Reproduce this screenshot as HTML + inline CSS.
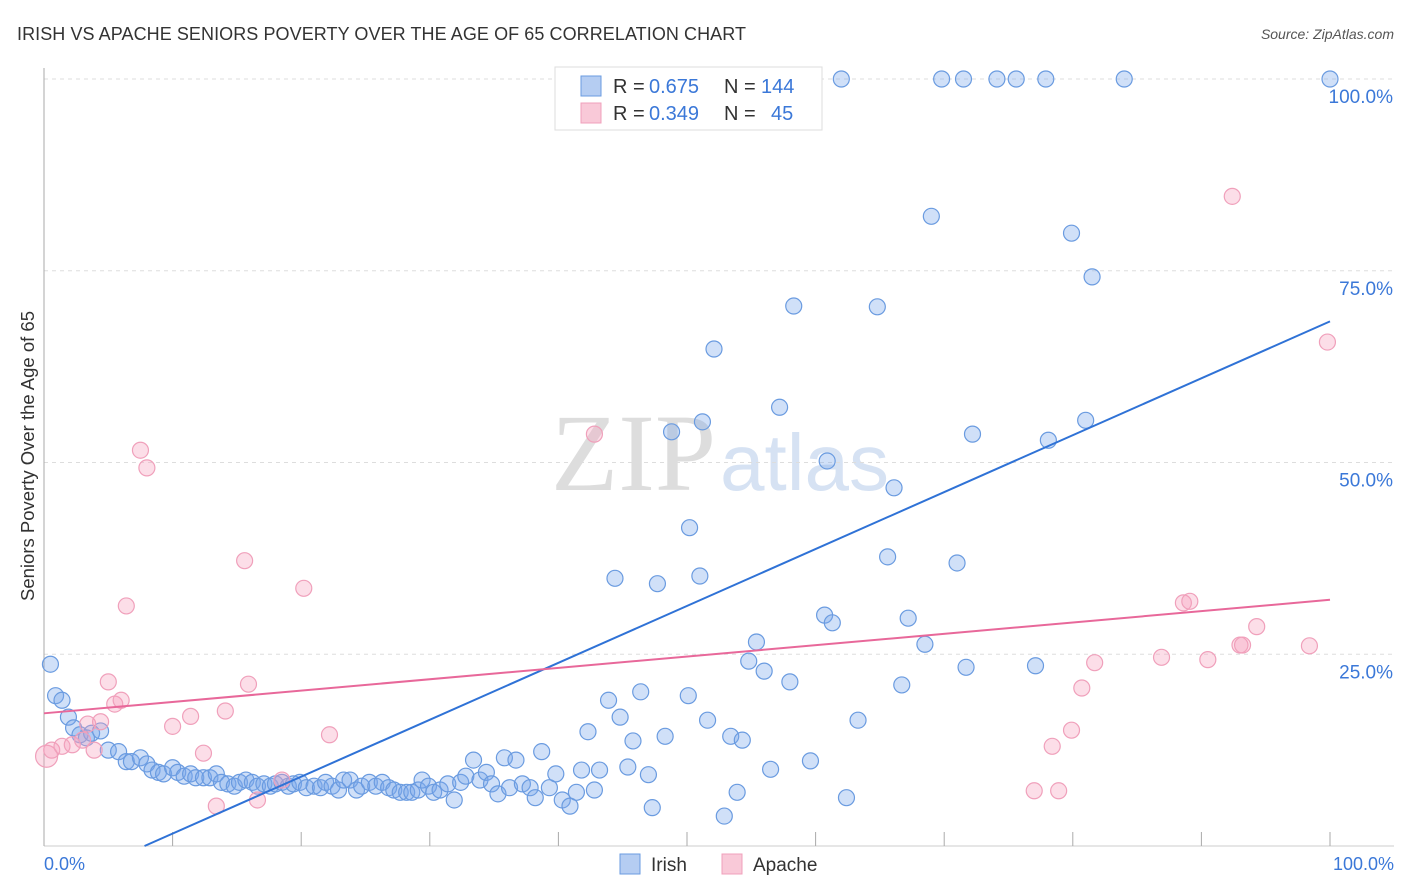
<!DOCTYPE html>
<html><head><meta charset="utf-8"><style>
body{margin:0;background:#fff;font-family:"Liberation Sans",sans-serif}
svg{display:block}
</style></head><body>
<svg id="c" width="1406" height="892">
<text x="17" y="40" font-size="18" fill="#333" textLength="729">IRISH VS APACHE SENIORS POVERTY OVER THE AGE OF 65 CORRELATION CHART</text>
<text x="1394" y="39" font-size="14" fill="#555" font-style="italic" text-anchor="end">Source: ZipAtlas.com</text>
<text x="716" y="490" font-size="110" fill="#ddd" font-family="Liberation Serif" text-anchor="end">ZIP</text>
<text x="720" y="490" font-size="80" fill="#d6e2f3">atlas</text>
<text transform="translate(34,456) rotate(-90)" font-size="18.5" fill="#333" text-anchor="middle">Seniors Poverty Over the Age of 65</text>
<g id="grid"></g><g id="marks"></g>
<g>
<rect x="555" y="67" width="267" height="63" fill="#fff" stroke="#ddd"/>
<rect x="581" y="76" width="20" height="20" fill="#b5cdf2" stroke="#6a9be0"/>
<rect x="581" y="103" width="20" height="20" fill="#f9c9d8" stroke="#f0a0bb"/>
<text x="613" y="93" font-size="20" fill="#333">R =</text>
<text x="649" y="93" font-size="20" fill="#3b78d8">0.675</text>
<text x="724" y="93" font-size="20" fill="#333">N =</text>
<text x="761" y="93" font-size="20" fill="#3b78d8">144</text>
<text x="613" y="120" font-size="20" fill="#333">R =</text>
<text x="649" y="120" font-size="20" fill="#3b78d8">0.349</text>
<text x="724" y="120" font-size="20" fill="#333">N =</text>
<text x="771" y="120" font-size="20" fill="#3b78d8">45</text>
</g>
<g>
<rect x="620" y="854" width="20" height="20" fill="#b5cdf2" stroke="#6a9be0"/>
<text x="651" y="871" font-size="19" fill="#333">Irish</text>
<rect x="722" y="854" width="20" height="20" fill="#f9c9d8" stroke="#f0a0bb"/>
<text x="753" y="871" font-size="19" fill="#333">Apache</text>
</g>
<text x="44" y="870" font-size="18" fill="#3b78d8">0.0%</text>
<text x="1394" y="870" font-size="18" fill="#3b78d8" text-anchor="end">100.0%</text>
</svg>
<script>
const irishX=[0.5,0.9,1.4,1.9,2.3,2.8,3.3,3.7,4.4,5.0,5.8,6.4,6.8,7.5,8.0,8.4,8.9,9.3,10.0,10.4,10.9,11.4,11.8,12.4,12.9,13.4,13.8,14.3,14.8,15.2,15.7,16.2,16.6,17.1,17.6,18.0,18.5,19.0,19.4,19.9,20.4,21.0,21.5,21.9,22.4,22.9,23.3,23.8,24.3,24.7,25.3,25.8,26.3,26.8,27.2,27.7,28.2,28.6,29.1,29.4,29.9,30.3,30.8,31.4,31.9,32.4,32.8,33.4,33.9,34.4,34.8,35.3,35.8,36.2,36.7,37.2,37.8,38.2,38.7,39.3,39.8,40.3,40.9,41.4,41.8,42.3,42.8,43.2,43.9,44.4,44.8,45.4,45.8,46.4,47.0,47.3,47.7,48.3,48.8,50.1,50.2,51.0,51.2,51.6,52.1,52.9,53.4,53.9,54.3,54.8,55.4,56.0,56.5,57.2,58.0,58.3,59.6,60.7,60.9,61.3,62.0,62.4,63.3,64.8,65.6,66.1,66.7,67.2,68.5,69.0,69.8,71.0,71.5,71.7,72.2,74.1,75.6,77.1,77.9,78.1,79.9,81.0,81.5,84.0,100];
const irishY=[23.7,19.6,19.0,16.8,15.4,14.5,14.1,14.7,15.0,12.5,12.3,11.0,11.0,11.5,10.7,9.9,9.6,9.4,10.2,9.6,9.1,9.4,8.9,8.9,8.9,9.4,8.3,8.1,7.8,8.3,8.6,8.3,7.8,8.1,7.8,8.1,8.3,7.8,8.1,8.3,7.6,7.8,7.6,8.3,7.8,7.3,8.6,8.6,7.3,7.8,8.3,7.8,8.3,7.6,7.3,7.0,7.0,7.0,7.3,8.6,7.8,7.0,7.3,8.1,6.0,8.3,9.1,11.2,8.6,9.6,8.1,6.8,11.5,7.6,11.2,8.1,7.6,6.3,12.3,7.6,9.4,6.0,5.2,7.0,9.9,14.9,7.3,9.9,19.0,34.9,16.8,10.3,13.7,20.1,9.3,5.0,34.2,14.3,54.0,19.6,41.5,35.2,55.3,16.4,64.8,3.9,14.3,7.0,13.8,24.1,26.6,22.8,10.0,57.2,21.4,70.4,11.1,30.1,50.2,29.1,100,6.3,16.4,70.3,37.7,46.7,21.0,29.7,26.3,82.1,100,36.9,100,23.3,53.7,100,100,23.5,100,52.9,79.9,55.5,74.2,100,100];
const apacheX=[0.2,0.6,1.4,2.2,3.0,3.4,3.9,4.4,5.0,5.5,6.0,6.4,7.5,8.0,10.0,11.4,12.4,13.4,14.1,15.6,15.9,16.6,18.5,20.2,22.2,42.8,77.0,78.4,78.9,79.9,80.7,81.7,86.9,88.6,89.1,90.5,93.0,93.2,94.3,92.4,98.4,99.8];
const apacheY=[11.7,12.5,13.0,13.2,13.8,15.9,12.5,16.2,21.4,18.5,19.0,31.3,51.6,49.3,15.6,16.9,12.1,5.2,17.6,37.2,21.1,6.0,8.6,33.6,14.5,53.7,7.2,13.0,7.2,15.1,20.6,23.9,24.6,31.7,31.9,24.3,26.2,26.2,28.6,84.7,26.1,65.7];
const irishTrend=[-5.8,0.742];
const apacheTrend=[17.3,0.148];
const yTicks=[25,50,75,100];
const xTicks=[0,10,20,30,40,50,60,70,80,90,100];
const X=v=>44+v*12.86, Y=v=>846-v*7.67;
const NS='http://www.w3.org/2000/svg';
function mk(t,a,p){const e=document.createElementNS(NS,t);for(const k in a)e.setAttribute(k,a[k]);p.appendChild(e);return e;}
const g=document.getElementById('grid'),m=document.getElementById('marks');
yTicks.forEach(t=>{
 const l=mk('line',{x1:44,x2:1394,y1:Y(t),y2:Y(t),stroke:'#ddd','stroke-dasharray':'4,4'},g);
 
 
 const tx=mk('text',{x:1393,y:Y(t)+24,'font-size':19,fill:'#3b78d8','text-anchor':'end'},g);
 tx.textContent=t.toFixed(1)+'%';
 
 
});
const ax=mk('line',{x1:44,x2:44,y1:68,y2:846,stroke:'#aaa'},g);


const bx=mk('line',{x1:44,x2:1394,y1:846,y2:846,stroke:'#ccc'},g);


xTicks.forEach(t=>{
 const l=mk('line',{x1:X(t),x2:X(t),y1:832,y2:846,stroke:'#aaa'},g);
 
 
});
irishX.forEach((x,i)=>{
 const c=mk('circle',{cx:X(x),cy:Y(irishY[i]),r:8,fill:'rgba(120,165,235,0.35)',stroke:'#6a9be0','stroke-width':1.2},m);
 
 
});
apacheX.forEach((x,i)=>{
 const c=mk('circle',{cx:X(x),cy:Y(apacheY[i]),r:i==0?11:8,fill:'rgba(245,160,190,0.35)',stroke:'#f0a0bb','stroke-width':1.2},m);
 
 
});
const x0=-irishTrend[0]/irishTrend[1];
const t1=mk('line',{x1:X(x0),y1:Y(0),x2:X(100),y2:Y(irishTrend[0]+100*irishTrend[1]),stroke:'#2f72d6','stroke-width':2},m);


const t2=mk('line',{x1:X(0),y1:Y(apacheTrend[0]),x2:X(100),y2:Y(apacheTrend[0]+100*apacheTrend[1]),stroke:'#e8689a','stroke-width':2},m);


</script>
</body></html>
